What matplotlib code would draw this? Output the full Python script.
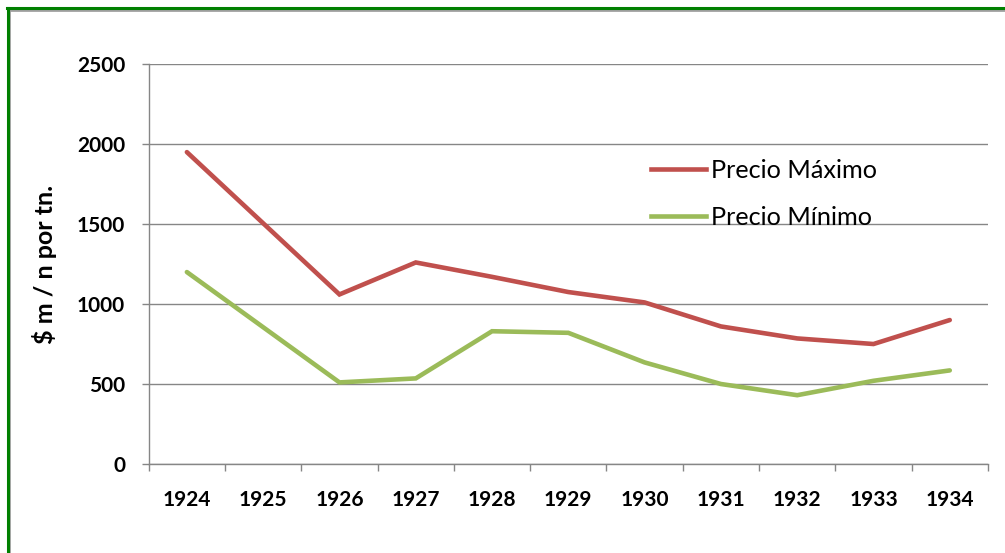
import numpy as np
import matplotlib.pyplot as plt
from matplotlib.lines import Line2D

# data (1925 has no value, the line just joins 1924 to 1926)
years = ['1924', '1925', '1926', '1927', '1928', '1929', '1930', '1931', '1932', '1933', '1934']
precio_max = [1950, None, 1060, 1260, 1170, 1075, 1010, 860, 785, 750, 900]
precio_min = [1200, None, 510, 535, 830, 820, 635, 500, 430, 520, 585]
yticks = [0, 500, 1000, 1500, 2000, 2500]

plt.rcParams['font.family'] = ['Lato', 'DejaVu Sans']

fig = plt.figure(figsize=(10.05, 5.53), dpi=100)
ax = fig.add_axes([0.148, 0.161, 0.835, 0.723])

x = np.arange(len(years))

def keep(vals):
    idx = [i for i, v in enumerate(vals) if v is not None]
    return x[idx], [vals[i] for i in idx]

xm, ym = keep(precio_max)
xn, yn = keep(precio_min)
ax.plot(xm, ym, color='#C0504D', lw=3.3, solid_capstyle='round', solid_joinstyle='miter', zorder=3)
ax.plot(xn, yn, color='#9BBB59', lw=3.3, solid_capstyle='round', solid_joinstyle='miter', zorder=3)

ax.set_xlim(-0.5, len(years) - 0.5)
ax.set_ylim(0, 2500)
ax.set_yticks(yticks)
ax.set_yticklabels([str(t) for t in yticks], fontsize=15, fontweight='bold')
ax.yaxis.grid(True, color='#868686', lw=1)
ax.set_axisbelow(True)

# category axis: tick marks between categories, labels at centres
ax.set_xticks(np.arange(-0.5, len(years), 1.0))
ax.set_xticklabels([])
ax.set_xticks(x, minor=True)
ax.set_xticklabels(years, minor=True, fontsize=15, fontweight='bold')
ax.tick_params(axis='x', which='major', length=5, color='#868686', width=1)
ax.tick_params(axis='x', which='minor', length=0, pad=19)
ax.tick_params(axis='y', length=5, color='#868686', width=1, pad=12)

for s in ['top', 'right']:
    ax.spines[s].set_visible(False)
for s in ['left', 'bottom']:
    ax.spines[s].set_color('#868686')
    ax.spines[s].set_linewidth(1)

ax.set_ylabel('$ m / n por tn.', fontsize=18, fontweight='bold', labelpad=14)

handles = [Line2D([], [], color='#C0504D', lw=3.3),
           Line2D([], [], color='#9BBB59', lw=3.3)]
ax.legend(handles, ['Precio Máximo', 'Precio Mínimo'], loc='upper left',
          bbox_to_anchor=(0.571, 0.82), frameon=False, fontsize=18.2,
          handlelength=2.2, handletextpad=0.18, labelspacing=0.95)

# green frame on top/left edges with grey shadow inside
fig.add_artist(Line2D([0.0085, 0.0085], [0, 0.986], transform=fig.transFigure, color='#A0A0A0', lw=2))
fig.add_artist(Line2D([0.0085, 1], [0.982, 0.982], transform=fig.transFigure, color='#A0A0A0', lw=2))
fig.add_artist(Line2D([0.0075, 0.0075], [0, 0.986], transform=fig.transFigure, color='#008000', lw=2.2))
fig.add_artist(Line2D([0.0065, 1], [0.985, 0.985], transform=fig.transFigure, color='#008000', lw=2.2))

fig.savefig('out.png', dpi=100)
